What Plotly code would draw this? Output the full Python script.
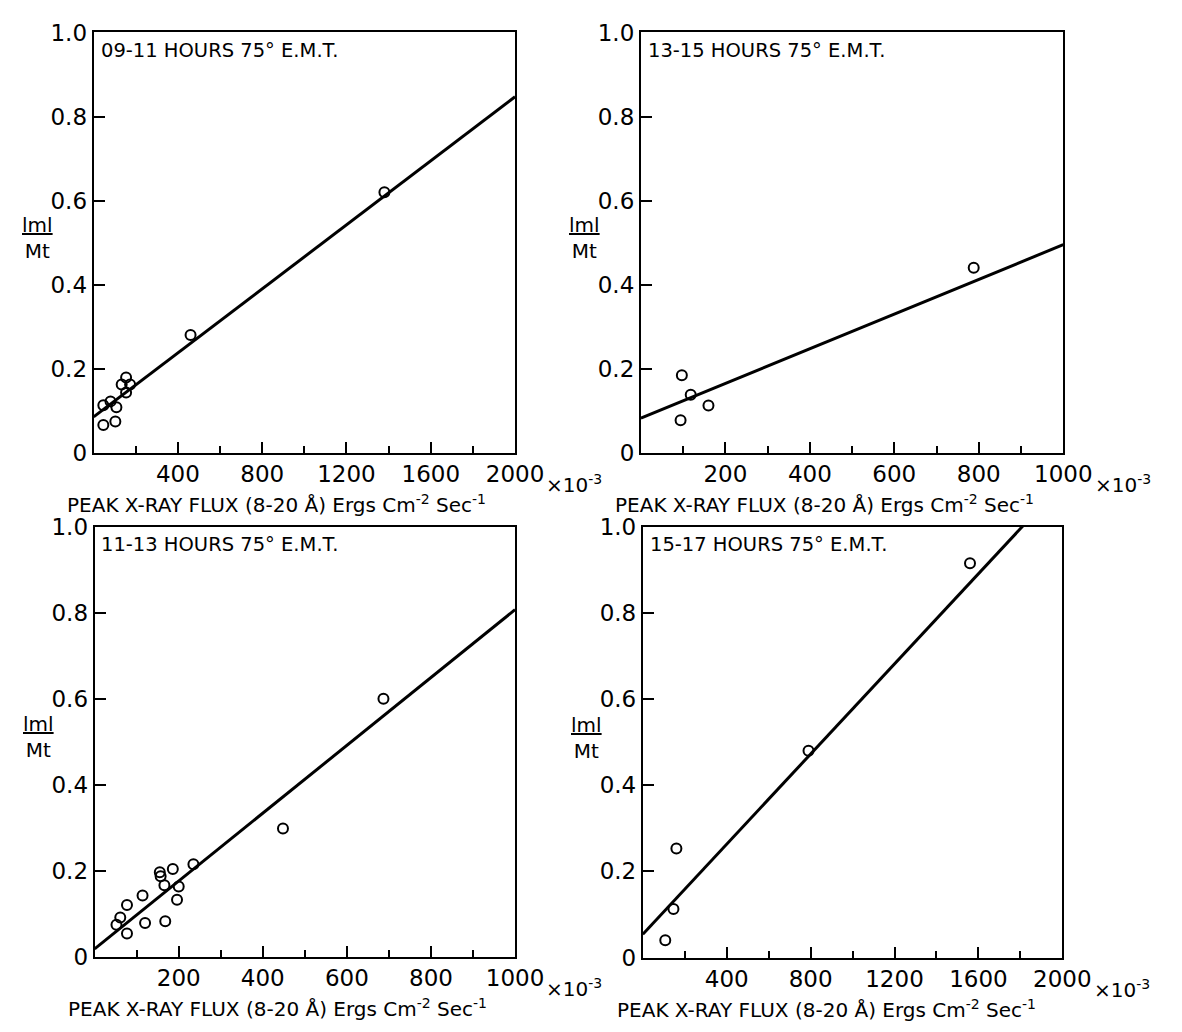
import plotly.graph_objects as go

# ---- data ----
p1_x = [46, 80, 108, 46, 103, 154, 133, 173, 154, 460, 1380]
p1_y = [0.113, 0.122, 0.108, 0.066, 0.074, 0.179, 0.162, 0.162, 0.143, 0.28, 0.62]
p1_fit_x = [0, 2000]
p1_fit_y = [0.085, 0.847]

p2_x = [97, 118, 160, 94, 788]
p2_y = [0.184, 0.138, 0.112, 0.077, 0.44]
p2_fit_x = [0, 1000]
p2_fit_y = [0.082, 0.495]

p3_x = [52, 61, 77, 77, 114, 120, 155, 157, 166, 168, 186, 200, 196, 235, 448, 687]
p3_y = [0.074, 0.091, 0.054, 0.12, 0.142, 0.078, 0.196, 0.187, 0.166, 0.082,
        0.204, 0.163, 0.132, 0.215, 0.298, 0.6]
p3_fit_x = [0, 1000]
p3_fit_y = [0.018, 0.807]

p4_x = [160, 146, 107, 790, 1560]
p4_y = [0.253, 0.113, 0.04, 0.48, 0.915]
p4_fit_x = [0, 2000]
p4_fit_y = [0.054, 1.10]

titles = ["09-11 HOURS 75° E.M.T.", "13-15 HOURS 75° E.M.T.",
          "11-13 HOURS 75° E.M.T.", "15-17 HOURS 75° E.M.T."]
y_ticks = [0, 0.2, 0.4, 0.6, 0.8, 1.0]
y_ticktext = ["0", "0.2", "0.4", "0.6", "0.8", "1.0"]
x_ticks_2000 = [400, 800, 1200, 1600, 2000]
x_minor_2000 = [200, 600, 1000, 1400, 1800]
x_ticks_1000 = [200, 400, 600, 800, 1000]
x_minor_1000 = [100, 300, 500, 700, 900]
x_title = "PEAK X-RAY FLUX (8-20 Å) Ergs Cm<sup>-2</sup> Sec<sup>-1</sup>"

W, H = 1182, 1032
FONT = "DejaVu Sans"

def px(v):
    return v / W

def py(v):
    return 1 - v / H

panels = [
    dict(x=p1_x, y=p1_y, fx=p1_fit_x, fy=p1_fit_y, xmax=2000, ticks=x_ticks_2000, minor=x_minor_2000,
         left=96, right=528, top=20, bottom=451),
    dict(x=p2_x, y=p2_y, fx=p2_fit_x, fy=p2_fit_y, xmax=1000, ticks=x_ticks_1000, minor=x_minor_1000,
         left=657, right=1090, top=20, bottom=451),
    dict(x=p3_x, y=p3_y, fx=p3_fit_x, fy=p3_fit_y, xmax=1000, ticks=x_ticks_1000, minor=x_minor_1000,
         left=97, right=528, top=527, bottom=968),
    dict(x=p4_x, y=p4_y, fx=p4_fit_x, fy=p4_fit_y, xmax=2000, ticks=x_ticks_2000, minor=x_minor_2000,
         left=659, right=1089, top=527, bottom=969),
]

fig = go.Figure()
annotations = []
layout = {}
for i, p in enumerate(panels):
    n = "" if i == 0 else str(i + 1)
    xa, ya = "x" + n, "y" + n
    fig.add_trace(go.Scatter(x=p["fx"], y=p["fy"], mode="lines", xaxis=xa, yaxis=ya,
                             line=dict(color="black", width=3), showlegend=False, hoverinfo="skip"))
    fig.add_trace(go.Scatter(x=p["x"], y=p["y"], mode="markers", xaxis=xa, yaxis=ya,
                             marker=dict(symbol="circle-open", size=10, color="black",
                                         line=dict(width=2, color="black")),
                             showlegend=False, cliponaxis=False))
    layout["xaxis" + n] = dict(
        domain=[px(p["left"]), px(p["right"])], anchor=ya, range=[0, p["xmax"]],
        showgrid=False, zeroline=False, showline=True, mirror=True, linecolor="black", linewidth=2,
        ticks="inside", ticklen=11, tickwidth=2, tickcolor="black",
        tickvals=p["ticks"], ticktext=[str(t) for t in p["ticks"]],
        tickfont=dict(family=FONT, size=23, color="black"),
        minor=dict(tickvals=p["minor"], ticks="inside", ticklen=7, tickwidth=2, tickcolor="black"),
    )
    layout["yaxis" + n] = dict(
        domain=[py(p["bottom"]), py(p["top"])], anchor=xa, range=[0, 1.0],
        showgrid=False, zeroline=False, showline=True, mirror=True, linecolor="black", linewidth=2,
        ticks="inside", ticklen=11, tickwidth=2, tickcolor="black",
        tickvals=y_ticks, ticktext=y_ticktext,
        tickfont=dict(family=FONT, size=23, color="black"),
    )
    # panel title inside the box
    annotations.append(dict(text=titles[i], x=px(p["left"] + 5), y=py(p["top"] + 18),
                            xref="paper", yref="paper", xanchor="left", yanchor="middle",
                            showarrow=False, font=dict(family=FONT, size=19.5, color="black")))
    # x-axis title
    annotations.append(dict(text=x_title, x=px(p["left"] - 29), y=py(p["bottom"] + 53),
                            xref="paper", yref="paper", xanchor="left", yanchor="middle",
                            showarrow=False, font=dict(family=FONT, size=20, color="black")))
    # x10^-3
    annotations.append(dict(text="×10<sup>-3</sup>", x=px(p["right"] + 30), y=py(p["bottom"] + 32),
                            xref="paper", yref="paper", xanchor="left", yanchor="middle",
                            showarrow=False, font=dict(family=FONT, size=20, color="black")))
    # y-axis title |m| / Mt
    annotations.append(dict(text="<u>lml</u><br>Mt", x=px(p["left"] - 58),
                            y=py(p["top"] + 0.49 * (p["bottom"] - p["top"])),
                            xref="paper", yref="paper", xanchor="center", yanchor="middle",
                            showarrow=False, align="center",
                            font=dict(family=FONT, size=20, color="black")))

fig.update_layout(
    width=W, height=H, margin=dict(l=0, r=0, t=0, b=0),
    paper_bgcolor="white", plot_bgcolor="white",
    annotations=annotations, **layout,
)
fig.write_html("out.html")
